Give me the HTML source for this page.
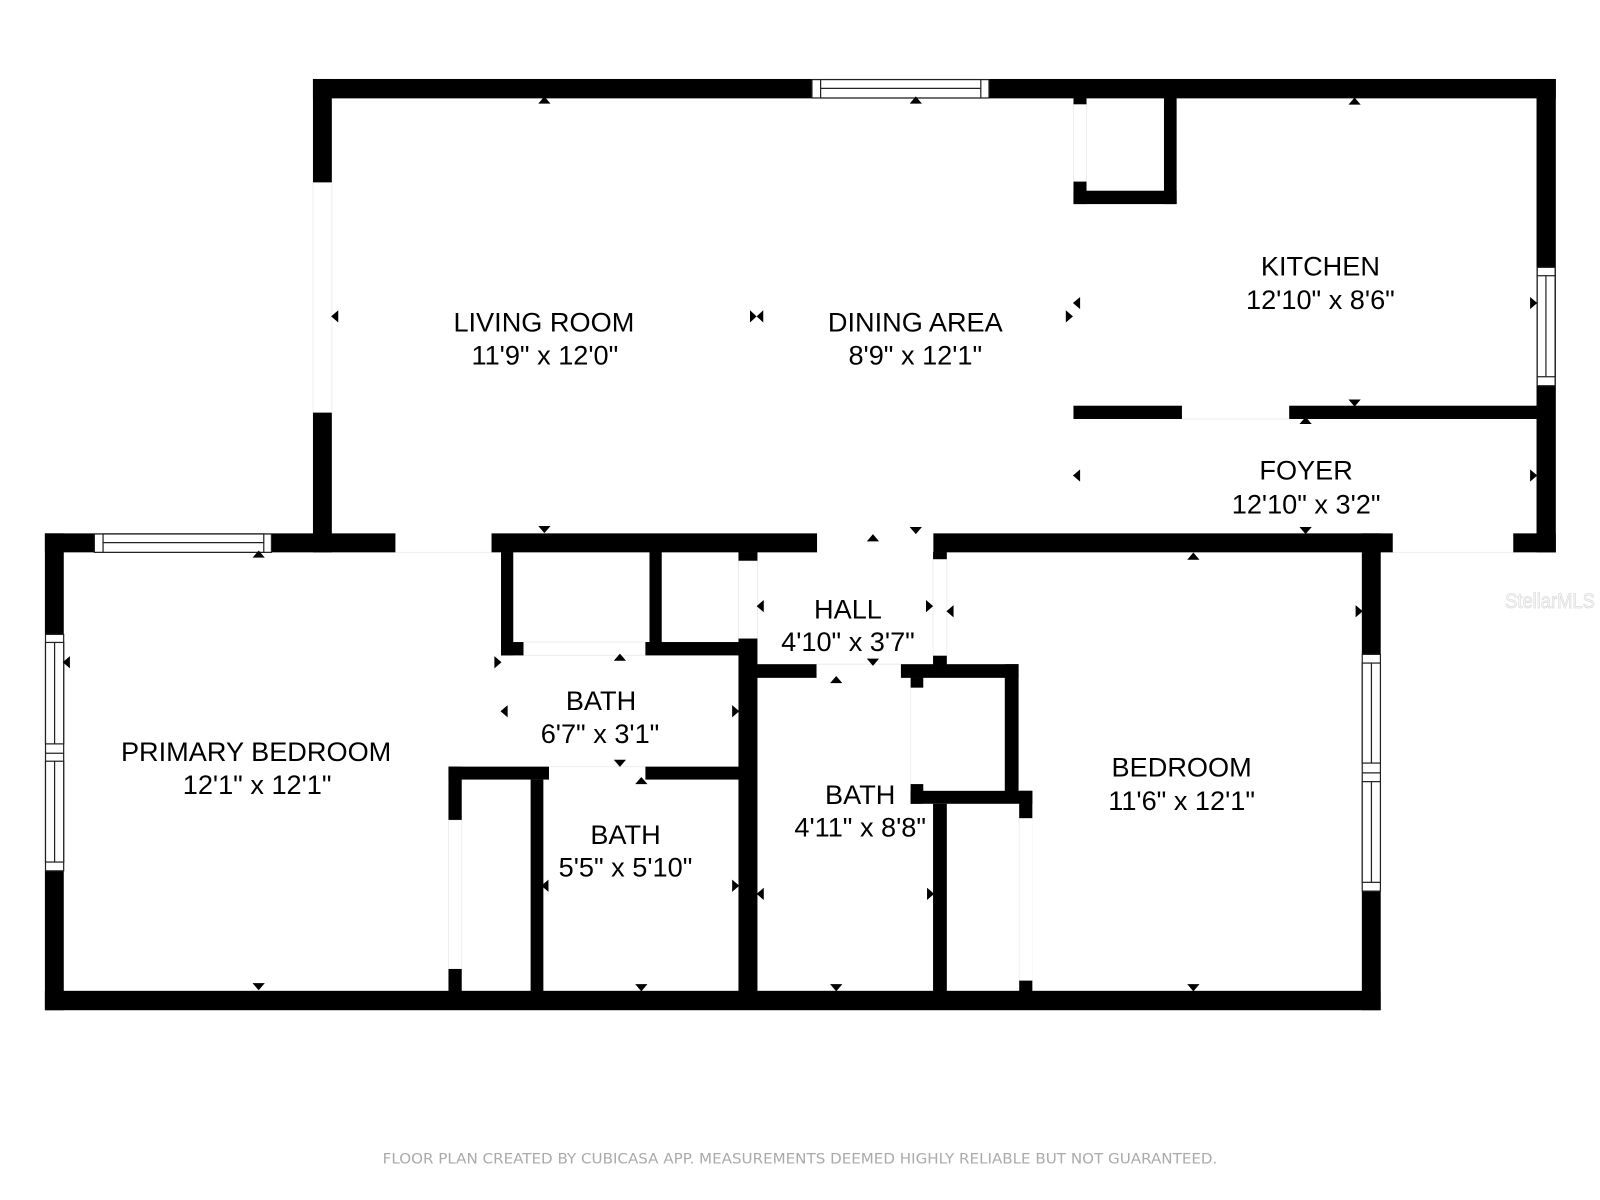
<!DOCTYPE html>
<html><head><meta charset="utf-8"><title>Floor plan</title>
<style>
html,body{margin:0;padding:0;background:#fff;width:1600px;height:1200px;overflow:hidden}
svg{display:block}
text{font-family:"Liberation Sans",Arial,sans-serif;font-size:26.6px;fill:#000;text-anchor:middle}
.f{font-family:"DejaVu Sans",sans-serif;font-size:14px;fill:#aaa}
.m{font-size:21px;fill:#fafafa;stroke:#dcdcdc;stroke-width:.8}
.d{fill:#fff;stroke:#eeeeee;stroke-width:1}
.w{fill:#fff;stroke:#222;stroke-width:1.2}
</style></head><body>
<svg width="1600" height="1200" viewBox="0 0 1568 1176" xmlns="http://www.w3.org/2000/svg">
<rect width="1568" height="1176" fill="#fff"/>
<!-- door openings -->
<g class="d">
<rect x="306.7" y="178.7" width="18.5" height="225.7"/>
<rect x="1052" y="102" width="12.8" height="76"/>
<rect x="723.7" y="549.5" width="18.6" height="76.3"/>
<rect x="914.4" y="548" width="13.5" height="94.6"/>
<rect x="513" y="629.2" width="119.5" height="13.1"/>
<rect x="439.5" y="803.5" width="13" height="146.1"/>
<line x1="892.4" y1="673.9" x2="892.4" y2="768.4"/>
<line x1="998.8" y1="801.8" x2="998.8" y2="961"/>
<line x1="1011.7" y1="801.8" x2="1011.7" y2="961" stroke-opacity=".4"/>
<line x1="800.2" y1="650.9" x2="882.9" y2="650.9"/>
<line x1="538" y1="751.3" x2="632.5" y2="751.3"/>
<line x1="1158.3" y1="410.6" x2="1263.4" y2="410.6"/>
<line x1="387.2" y1="541.3" x2="481.7" y2="541.3"/>
<line x1="1364.9" y1="541.3" x2="1483" y2="541.3"/>
</g>
<!-- walls -->
<g fill="#000">
<!-- upper outer -->
<rect x="306.7" y="77.4" width="1218" height="19"/>
<rect x="306.7" y="77.4" width="18.5" height="101.3"/>
<rect x="306.7" y="404.4" width="18.5" height="136.9"/>
<rect x="1505.8" y="77.4" width="18.9" height="463.9"/>
<rect x="1483" y="522.7" width="41.7" height="18.6"/>
<!-- kitchen closet -->
<rect x="1052" y="96" width="12.8" height="6.2"/>
<rect x="1052" y="178" width="12.8" height="22"/>
<rect x="1052" y="186.9" width="101.1" height="13.1"/>
<rect x="1140.7" y="96" width="12.4" height="104"/>
<!-- kitchen/foyer wall -->
<rect x="1052" y="397.6" width="106.3" height="13"/>
<rect x="1263.4" y="397.6" width="243" height="13"/>
<!-- middle horizontal -->
<rect x="44" y="522.7" width="343.5" height="18.6"/>
<rect x="481.7" y="522.7" width="319" height="18.6"/>
<rect x="914.7" y="522.7" width="450.2" height="18.6"/>
<!-- primary left -->
<rect x="44" y="522.7" width="18.5" height="99"/>
<rect x="44" y="853.4" width="18.5" height="136.6"/>
<!-- bottom -->
<rect x="44" y="971" width="1309" height="19"/>
<!-- bedroom right -->
<rect x="1334.6" y="522.7" width="18.5" height="118.6"/>
<rect x="1334.6" y="873.3" width="18.5" height="116.7"/>
<!-- closet -->
<rect x="491" y="541" width="12" height="101.3"/>
<rect x="491" y="629.2" width="22" height="13.1"/>
<rect x="632.5" y="629.2" width="91.5" height="13.1"/>
<rect x="636.5" y="541" width="12" height="100"/>
<!-- center spine -->
<rect x="723.7" y="541" width="18.6" height="8.5"/>
<rect x="723.7" y="625.8" width="18.6" height="364"/>
<!-- lower baths -->
<rect x="439.5" y="751.3" width="98.5" height="12.7"/>
<rect x="632.5" y="751.3" width="91.5" height="12.7"/>
<rect x="439.5" y="751.3" width="13" height="52.2"/>
<rect x="439.5" y="949.6" width="13" height="22"/>
<rect x="520" y="764" width="12.5" height="208"/>
<!-- hall lower -->
<rect x="742" y="650.9" width="58.2" height="13.4"/>
<rect x="882.9" y="650.9" width="115.3" height="13.4"/>
<rect x="984.7" y="650.9" width="13.5" height="136"/>
<rect x="892.4" y="664" width="12.4" height="9.9"/>
<rect x="892.4" y="768.4" width="12.4" height="19.3"/>
<rect x="892.4" y="775" width="119.3" height="12.7"/>
<rect x="998.8" y="775" width="12.9" height="26.8"/>
<rect x="998.8" y="961" width="12.9" height="11"/>
<rect x="914.4" y="541" width="13.5" height="7"/>
<rect x="914.4" y="642.6" width="13.5" height="9"/>
<rect x="914.4" y="787.7" width="13.5" height="184"/>
</g>
<!-- windows -->
<g class="w">
<rect x="795.7" y="78" width="173.5" height="18"/><rect x="804.2" y="78" width="157" height="18"/><line x1="804.2" y1="86.6" x2="961.2" y2="86.6"/>
<rect x="92.5" y="523.3" width="173.5" height="18"/><rect x="101" y="523.3" width="157.5" height="18"/><line x1="101" y1="531.8" x2="258.5" y2="531.8"/>
<rect x="1506.5" y="262" width="17.5" height="116"/><rect x="1506.5" y="270.2" width="17.5" height="99"/><line x1="1515" y1="270.2" x2="1515" y2="369.2"/>
<rect x="44.6" y="621.7" width="17.8" height="231.7"/><rect x="44.6" y="629.6" width="17.8" height="99.4"/><rect x="44.6" y="746" width="17.8" height="98.8"/><line x1="44.6" y1="738.2" x2="62.4" y2="738.2"/><line x1="53.5" y1="629.6" x2="53.5" y2="729"/><line x1="53.5" y1="746" x2="53.5" y2="844.8"/>
<rect x="1335" y="641.3" width="17.8" height="232"/><rect x="1335" y="649.8" width="17.8" height="98"/><rect x="1335" y="766" width="17.8" height="98.7"/><line x1="1335" y1="757.4" x2="1352.8" y2="757.4"/><line x1="1344" y1="649.8" x2="1344" y2="747.8"/><line x1="1344" y1="766" x2="1344" y2="864.7"/>
</g>
<!-- arrow markers -->
<g fill="#000">
<path transform="translate(.5 0)" d="M533 94.5l6 7h-12zM897 94.5l6 7h-12zM1327 95.5l6 7h-12zM253 539.5l6 7h-12zM1169 541.5l6 7h-12zM607 640.5l6 7h-12zM819 662.5l6 7h-12zM628 761.5l6 7h-12zM855 523.5l6 7h-12zM1279 408.5l6 7h-12z"/>
<path transform="translate(.5 0)" d="M533 522.5l6-7h-12zM897 523.5l6-7h-12zM1327 398.5l6-7h-12zM253 970.5l6-7h-12zM607 751.5l6-7h-12zM855 652.5l6-7h-12zM1279 523.5l6-7h-12zM628 971.5l6-7h-12zM819 971.5l6-7h-12zM1169 971.5l6-7h-12z"/>
<path d="M324.5 310l7-6v12zM1051.5 297l7-6v12zM1051.5 466l7-6v12zM61.5 649l7-6v12zM490.5 697l7-6v12zM741.5 594l7-6v12zM927.5 599l7-6v12zM530.5 868l7-6v12zM741.5 876l7-6v12zM741.5 310l6.5-6v12z"/>
<path d="M1506.5 297l-7-6v12zM1506.5 466l-7-6v12zM1051.5 310l-7-6v12zM491.5 649l-7-6v12zM724.5 697l-7-6v12zM914.5 594l-7-6v12zM1335.5 599l-7-6v12zM724.5 868l-7-6v12zM915.5 876l-7-6v12zM741.5 310l-6.5-6v12z"/>
</g>
<!-- labels -->
<text x="533" y="325">LIVING ROOM</text><text x="534" y="357">11'9" x 12'0"</text>
<text x="897" y="325">DINING AREA</text><text x="897" y="357">8'9" x 12'1"</text>
<text x="1294" y="270">KITCHEN</text><text x="1294" y="303">12'10" x 8'6"</text>
<text x="1280" y="470">FOYER</text><text x="1280" y="503">12'10" x 3'2"</text>
<text x="251" y="746">PRIMARY BEDROOM</text><text x="252" y="778">12'1" x 12'1"</text>
<text x="589" y="696">BATH</text><text x="588" y="728">6'7" x 3'1"</text>
<text x="613" y="827">BATH</text><text x="613" y="859">5'5" x 5'10"</text>
<text x="831" y="606">HALL</text><text x="831" y="638">4'10" x 3'7"</text>
<text x="843" y="788">BATH</text><text x="843" y="820">4'11" x 8'8"</text>
<text x="1158" y="761">BEDROOM</text><text x="1158" y="794">11'6" x 12'1"</text>
<text class="f" x="784" y="1140" textLength="818" lengthAdjust="spacingAndGlyphs">FLOOR PLAN CREATED BY CUBICASA APP. MEASUREMENTS DEEMED HIGHLY RELIABLE BUT NOT GUARANTEED.</text>
<text class="m" x="1519" y="596" textLength="88" lengthAdjust="spacingAndGlyphs">StellarMLS</text>
</svg>
</body></html>
